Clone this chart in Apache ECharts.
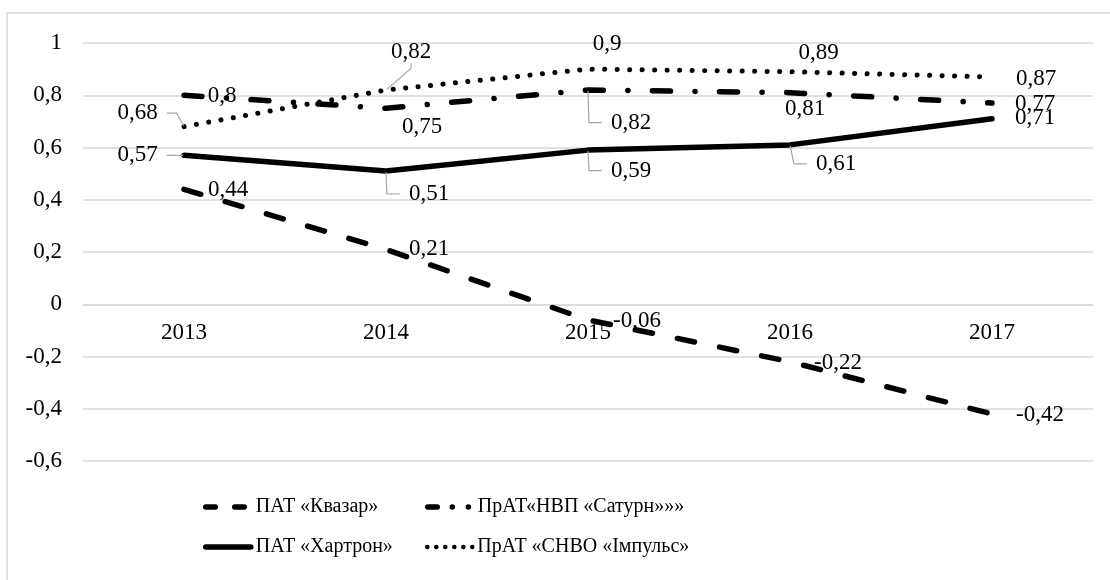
<!DOCTYPE html>
<html>
<head>
<meta charset="utf-8">
<script src="https://cdn.jsdelivr.net/npm/echarts@6/dist/echarts.min.js"></script>
<style>
  html, body { margin: 0; padding: 0; background: #fff; }
  #chart { width: 1110px; height: 580px; }
</style>
</head>
<body>
<div id="chart"></div>
<script>
// Categories and values
const years = ['2013', '2014', '2015', '2016', '2017'];
const seriesNames = ['ПАТ «Квазар»', 'ПрАТ«НВП «Сатурн»»»', 'ПАТ «Хартрон»', 'ПрАТ «СНВО «Імпульс»'];
const kvazar   = [0.44, 0.21, -0.06, -0.22, -0.42];
const saturn   = [0.8, 0.75, 0.82, 0.81, 0.77];
const khartron = [0.57, 0.51, 0.59, 0.61, 0.71];
const impuls   = [0.68, 0.82, 0.9, 0.89, 0.87];

// Value axis range
const yMin = -0.6, yMax = 1, yStep = 0.2;

// Label placement per point: [dx, dy, leader length (null = no leader)]
const kvazarLabelPos   = [[44, 1, null], [43, 0, null], [49, 1, null], [48, 1, null], [48, 1, null]];
const saturnLabelPos   = [[38, 1, null], [36, 19, null], [43, 32.5, 13], [15, 16, null], [43, 1, null]];
const khartronLabelPos = [[-46.5, 0, 10], [43, 23, 13], [43, 20.5, 13], [46, 19, 13], [43, -0.5, null]];
const impulsLabelPos   = [[-46.5, -13.5, 10], [25, -38, 5], [19, -25, null], [28.5, -19, null], [44, 1.6, null]];

const FONT = 'Liberation Serif';
const fmt = v => String(v).replace('.', ',');

// Plot box
const gridBox = { left: 83, right: 17, top: 43, bottom: 119 };
const plotHeight = 580 - gridBox.top - gridBox.bottom;

function buildSeries(name, values, placement, lineStyle) {
  return {
    name: name,
    type: 'line',
    data: values.map((v, i) => {
      const p = placement[i];
      return {
        value: v,
        label: { offset: [p[0], p[1]] },
        labelLine: p[2] == null ? { show: false } : { show: true, length2: p[2] }
      };
    }),
    symbol: 'circle',
    symbolSize: 2,
    showSymbol: true,
    itemStyle: { color: 'rgba(0,0,0,0)', borderWidth: 0 },
    lineStyle: Object.assign({ color: '#000', width: 5.5, cap: 'round', join: 'round' }, lineStyle),
    label: {
      show: true,
      position: 'inside',
      align: 'center',
      verticalAlign: 'middle',
      color: '#000',
      fontFamily: FONT,
      fontSize: 23,
      textBorderWidth: 0,
      backgroundColor: 'rgba(255,255,255,0)',
      padding: [0, 9],
      formatter: p => fmt(p.value)
    },
    labelLine: { lineStyle: { color: '#a6a6a6', width: 1.2 } },
    emphasis: { disabled: true },
    silent: true,
    animation: false
  };
}

const series = [
  buildSeries(seriesNames[0], kvazar, kvazarLabelPos, { type: [17.5, 25.5] }),
  buildSeries(seriesNames[1], saturn, saturnLabelPos, { type: [18, 24.5, 0.1, 24.5] }),
  buildSeries(seriesNames[2], khartron, khartronLabelPos, { type: 'solid' }),
  buildSeries(seriesNames[3], impuls, impulsLabelPos, { type: [0.1, 12.4], width: 5 })
];

// Legend swatches (shorter patterns so they read within the icon)
const legendLines = [
  { color: '#000', width: 5.5, cap: 'round', type: [9.5, 19.5] },
  { color: '#000', width: 5.5, cap: 'round', type: [9.5, 15, 0.1, 16, 0.1, 30] },
  { color: '#000', width: 5.5, cap: 'round', type: 'solid' },
  { color: '#000', width: 4.5, cap: 'round', type: [0.1, 8.9] }
];
const legendLeft = [203, 425, 203, 425];
const legendTop = [497, 497, 537, 537];

const legends = seriesNames.map((n, i) => ({
  data: [{ name: n, lineStyle: legendLines[i] }],
  left: legendLeft[i],
  top: legendTop[i],
  orient: 'horizontal',
  itemWidth: 45,
  itemHeight: 22,
  itemGap: 0,
  padding: 0,
  selectedMode: false,
  textStyle: { fontFamily: FONT, fontSize: 20, color: '#000' }
}));

const chart = echarts.init(document.getElementById('chart'), null, { renderer: 'canvas' });
chart.setOption({
  animation: false,
  backgroundColor: '#fff',
  textStyle: { fontFamily: FONT },
  graphic: [{
    type: 'rect',
    shape: { x: 7, y: 13, width: 1300, height: 800 },
    style: { fill: 'none', stroke: '#d9d9d9', lineWidth: 1.5 },
    silent: true,
    z: -1
  }],
  grid: Object.assign({ containLabel: false, outerBoundsMode: 'none' }, gridBox),
  legend: legends,
  xAxis: {
    type: 'category',
    data: years,
    boundaryGap: true,
    // category labels sit under the zero line
    offset: -plotHeight * (0 - yMin) / (yMax - yMin),
    axisLine: { show: true, onZero: false, lineStyle: { color: '#d9d9d9', width: 1.5 } },
    axisTick: { show: false },
    axisLabel: { color: '#000', fontFamily: FONT, fontSize: 23, margin: 17 },
    splitLine: { show: false }
  },
  yAxis: {
    type: 'value',
    min: yMin,
    max: yMax,
    interval: yStep,
    axisLine: { show: false },
    axisTick: { show: false },
    axisLabel: {
      color: '#000', fontFamily: FONT, fontSize: 23, margin: 21,
      formatter: v => fmt(+v.toFixed(1))
    },
    splitLine: { show: true, lineStyle: { color: '#d9d9d9', width: 1.5 } }
  },
  series: series
});
</script>
</body>
</html>
